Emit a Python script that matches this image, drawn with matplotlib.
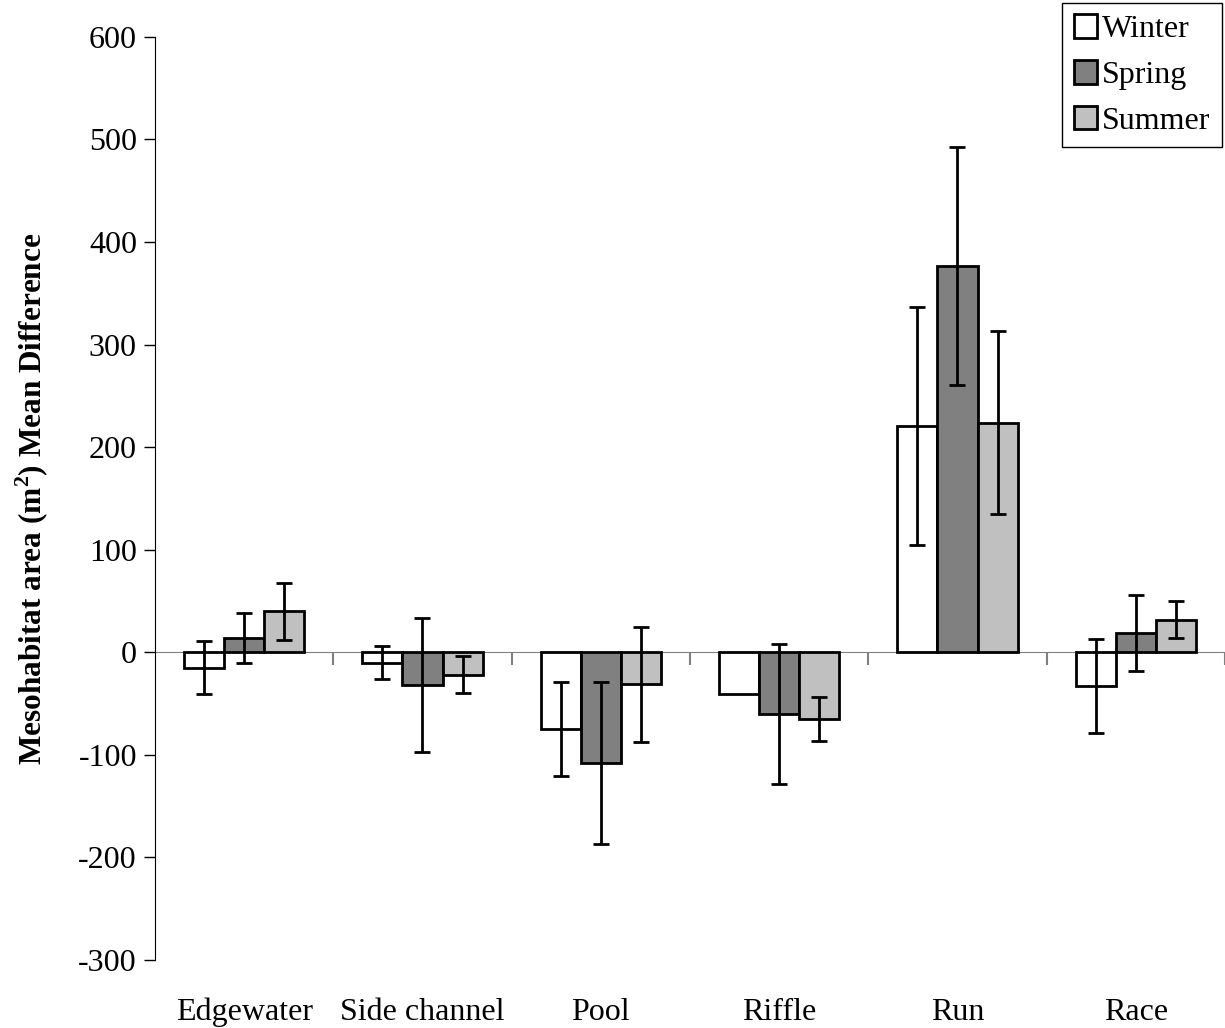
import matplotlib.pyplot as plt
import numpy as np

plt.rcParams['font.family'] = ['Liberation Serif', 'DejaVu Serif']
plt.rcParams['mathtext.fontset'] = 'custom'
plt.rcParams['mathtext.rm'] = 'Liberation Serif'
plt.rcParams['mathtext.bf'] = 'Liberation Serif:bold'
plt.rcParams['axes.unicode_minus'] = False

# habitat types and seasonal mean differences (m^2)
categories = ["Edgewater", "Side channel", "Pool", "Riffle", "Run", "Race"]
seasons = ["Winter", "Spring", "Summer"]
winter = np.array([-15, -10, -75, -41, 221, -33])
spring = np.array([14, -32, -108, -60, 377, 19])
summer = np.array([40, -22, -31, -65, 224, 32])
winter_err = np.array([26, 16, 46, np.nan, 116, 46])
spring_err = np.array([24, 65, 79, 68, 116, 37])
summer_err = np.array([28, 18, 56, 21, 89, 18])

values = [winter, spring, summer]
errors = [winter_err, spring_err, summer_err]
colors = ['white', '#808080', '#c0c0c0']

fig = plt.figure(figsize=(12.25, 10.28), dpi=100)
ax = fig.add_axes([0.1265, 0.0661, 0.8735, 0.898])

x = np.arange(len(categories))
w = 0.225
for k in range(3):
    pos = x + (k - 1) * w
    ax.bar(pos, values[k], w, color=colors[k], edgecolor='black',
           linewidth=2, label=seasons[k], zorder=2)
    ax.errorbar(pos, values[k], yerr=errors[k], fmt='none', ecolor='black',
                elinewidth=2, capsize=5.5, capthick=2, zorder=3)

ax.set_xlim(-0.5, len(categories) - 0.5)
ax.set_ylim(-300, 600)
ax.set_yticks(np.arange(-300, 601, 100))
ax.tick_params(axis='y', labelsize=23, length=8, width=1, pad=5)

# zero line with group separators as ticks
ax.spines['bottom'].set_position(('data', 0))
ax.spines['bottom'].set_color('#808080')
ax.spines['bottom'].set_zorder(1)
ax.spines['top'].set_visible(False)
ax.spines['right'].set_visible(False)
ax.set_xticks(x + 0.5, minor=False)
ax.set_xticklabels([])
ax.tick_params(axis='x', length=9, width=1.5, color='#808080', direction='out')
for i, c in enumerate(categories):
    ax.text(x[i], -0.057, c, transform=ax.get_xaxis_transform(),
            ha='center', va='center', fontsize=23)

ax.set_ylabel(r"Mesohabitat area (m$^{\mathbf{2}}$) Mean Difference",
              fontsize=22.5, fontweight='bold', labelpad=20)

leg = fig.legend(loc='upper right', bbox_to_anchor=(1.0, 1.0), fontsize=23,
                 fancybox=False, framealpha=1, edgecolor='black',
                 handlelength=0.75, handleheight=0.75, handletextpad=0.15,
                 borderpad=0.35, labelspacing=0.5, borderaxespad=0.1)
leg.get_frame().set_linewidth(1)

fig.savefig('out.png', dpi=100)
